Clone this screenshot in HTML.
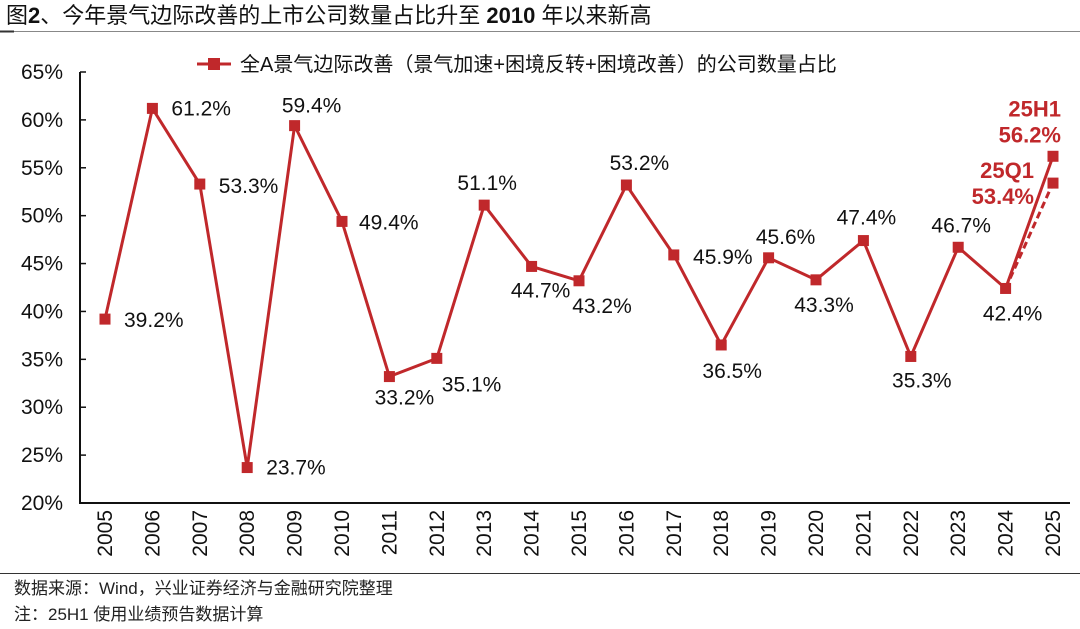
<!DOCTYPE html>
<html><head><meta charset="utf-8">
<style>
html,body{margin:0;padding:0;background:#fff;}
svg{display:block;font-family:"Liberation Sans","Noto Sans CJK SC",sans-serif;}
</style></head>
<body>
<svg id="chart" width="1080" height="629" viewBox="0 0 1080 629" xmlns="http://www.w3.org/2000/svg">
  <text x="6" y="23" font-size="22" fill="#111">图<tspan font-weight="bold">2</tspan>、今年景气边际改善的上市公司数量占比升至 <tspan font-weight="bold">2010</tspan> 年以来新高</text>
  <line x1="0" y1="31.5" x2="1080" y2="31.5" stroke="#888" stroke-width="1"/>
  <line x1="0" y1="31.5" x2="14" y2="31.5" stroke="#333" stroke-width="2"/>
  <g>
    <line x1="197" y1="64" x2="231" y2="64" stroke="#C0282B" stroke-width="3"/>
    <rect x="208" y="58" width="12" height="12" fill="#C0282B"/>
    <text x="240" y="71" font-size="20" fill="#111">全A景气边际改善（景气加速+困境反转+困境改善）的公司数量占比</text>
  </g>
  <g id="axes"></g>
  <g id="series"></g>
  <line x1="0" y1="573.5" x2="1080" y2="573.5" stroke="#333" stroke-width="1"/>
  <text x="14" y="594" font-size="17" fill="#222">数据来源：Wind，兴业证券经济与金融研究院整理</text>
  <text x="14" y="620" font-size="17" fill="#222">注：25H1 使用业绩预告数据计算</text>
</svg>
<script>
const categories = ["2005","2006","2007","2008","2009","2010","2011","2012","2013","2014","2015","2016","2017","2018","2019","2020","2021","2022","2023","2024","2025"];
const values = [39.2,61.2,53.3,23.7,59.4,49.4,33.2,35.1,51.1,44.7,43.2,53.2,45.9,36.5,45.6,43.3,47.4,35.3,46.7,42.4,56.2];
const q1Value = 53.4;
const yTicks = [20,25,30,35,40,45,50,55,60,65];
// label placement: [dx, dy, anchor]
const labelPlace = [[19,1,"start"],[19,0,"start"],[19,2,"start"],[19,0,"start"],[17,-20,"middle"],[17,1,"start"],[15,21,"middle"],[5,26,"start"],[3,-22,"middle"],[9,24,"middle"],[23,25,"middle"],[13,-22,"middle"],[49,2,"middle"],[11,26,"middle"],[17,-21,"middle"],[8,25,"middle"],[3,-23,"middle"],[11,24,"middle"],[3,-22,"middle"],[7,25,"middle"]];
const NS="http://www.w3.org/2000/svg";
const x0=105, xStep=47.4, yBase=503, yTop=72, vMin=20, vMax=65;
function xS(i){return x0+i*xStep;}
function yS(v){return yBase-(v-vMin)/(vMax-vMin)*(yBase-yTop);}
function mk(tag,attrs,parent){const e=document.createElementNS(NS,tag);for(const k in attrs)e.setAttribute(k,attrs[k]);parent.appendChild(e);return e;}
const axes=document.getElementById('axes'), ser=document.getElementById('series');
const RED="#C0282B";
let yl=mk('line',{x1:80,y1:yS(65),x2:80,y2:yBase,stroke:"#111","stroke-width":2},axes);


let xl=mk('line',{x1:79,y1:yBase,x2:1070,y2:yBase,stroke:"#111","stroke-width":2},axes);


yTicks.forEach(v=>{
  const t=mk('line',{x1:80,y1:yS(v),x2:86,y2:yS(v),stroke:"#111","stroke-width":1.5},axes);
  
  
  const l=mk('text',{x:63,y:yS(v)+7,"font-size":21,"text-anchor":"end",fill:"#111"},axes);
  l.textContent=v+"%";
  
  
});
categories.forEach((c,i)=>{
  const l=mk('text',{transform:`translate(${xS(i)+7},510) rotate(-90)`,"font-size":21,"text-anchor":"end",fill:"#111"},axes);
  l.textContent=c;
  
  
});
const n=values.length;
const pts=values.map((v,i)=>xS(i)+","+yS(v)).join(" ");
const pl=mk('polyline',{points:pts,fill:"none",stroke:RED,"stroke-width":3,"stroke-linejoin":"miter"},ser);


const dl=mk('line',{x1:xS(n-2),y1:yS(values[n-2]),x2:xS(n-1),y2:yS(q1Value),stroke:RED,"stroke-width":3,"stroke-dasharray":"7,4"},ser);


values.forEach((v,i)=>{
  const r=mk('rect',{x:xS(i)-5.5,y:yS(v)-5.5,width:11,height:11,fill:RED},ser);
  
  
  if(i<n-1){
    const p=labelPlace[i];
    const t=mk('text',{x:xS(i)+p[0],y:yS(v)+p[1]+7,"font-size":21,"text-anchor":p[2],fill:"#111"},ser);
    t.textContent=v.toFixed(1)+"%";
    
    
  }
});
const rq=mk('rect',{x:xS(n-1)-5.5,y:yS(q1Value)-5.5,width:11,height:11,fill:RED},ser);


const hx=xS(n-1)+8, hy=yS(values[n-1]);
const h1=mk('text',{x:hx,y:hy-40,"font-size":22,"font-weight":"bold","text-anchor":"end",fill:RED},ser);
h1.textContent="25H1";


const h2=mk('text',{x:hx,y:hy-14,"font-size":22,"font-weight":"bold","text-anchor":"end",fill:RED},ser);
h2.textContent=values[n-1].toFixed(1)+"%";


const qx=xS(n-1)-19, qy=yS(q1Value);
const q1=mk('text',{x:qx,y:qy-5,"font-size":22,"font-weight":"bold","text-anchor":"end",fill:RED},ser);
q1.textContent="25Q1";


const q2=mk('text',{x:qx,y:qy+21,"font-size":22,"font-weight":"bold","text-anchor":"end",fill:RED},ser);
q2.textContent=q1Value.toFixed(1)+"%";


</script>
</body></html>
